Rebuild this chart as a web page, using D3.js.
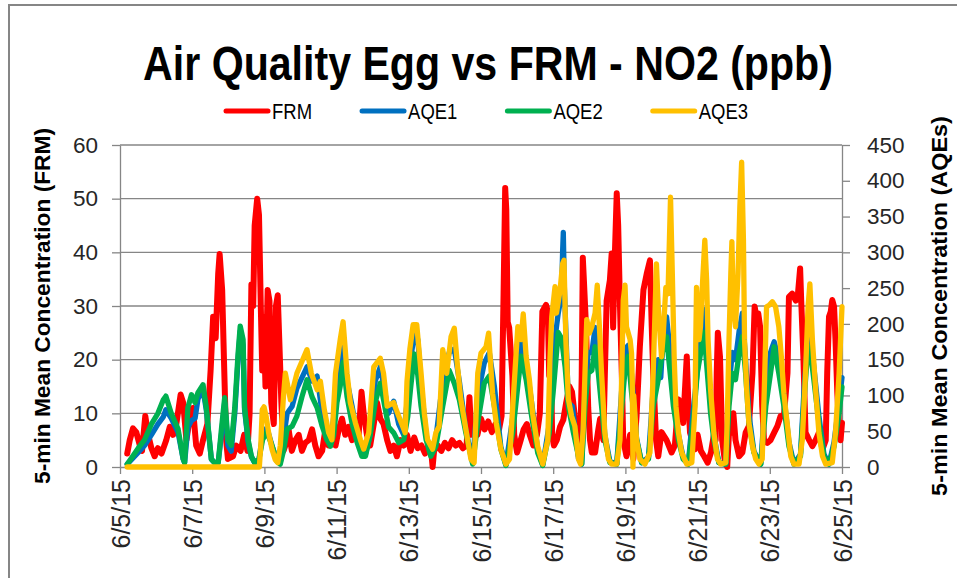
<!DOCTYPE html>
<html><head><meta charset="utf-8">
<script src="https://cdn.jsdelivr.net/npm/d3@7"></script>
<style>html,body{margin:0;padding:0;background:#fff;}svg{display:block;}</style>
</head><body>
<svg id="c" width="957" height="578"></svg>
<script>
// ---------- DATA ----------
const chartTitle = "Air Quality Egg vs FRM - NO2 (ppb)";
const seriesNames = ["FRM", "AQE1", "AQE2", "AQE3"];
const seriesColors = ["#FF0000", "#0070C0", "#00B050", "#FFC000"];
const leftTitle = "5-min Mean Concentration (FRM)";
const rightTitle = "5-min Mean Concentration (AQEs)";
const leftTicks = [0, 10, 20, 30, 40, 50, 60];
const rightTicks = [0, 50, 100, 150, 200, 250, 300, 350, 400, 450];
const dateTicks = ["2015-06-05","2015-06-07","2015-06-09","2015-06-11","2015-06-13","2015-06-15","2015-06-17","2015-06-19","2015-06-21","2015-06-23","2015-06-25"];
const startDate = "2015-06-05";
// [days since 6/5/15 00:00, ppb]
const frm = [[0.20,2.5],[0.27,5],[0.36,7.2],[0.45,6.5],[0.55,4],[0.61,3],[0.70,9.5],[0.78,6],[0.87,3.5],[0.96,2],[1.05,3.5],[1.15,2.5],[1.28,5],[1.38,7.5],[1.47,6],[1.56,8],[1.68,13.5],[1.75,12],[1.84,5],[1.93,9],[2.02,11],[2.11,4],[2.21,2.5],[2.30,5],[2.42,8],[2.51,18],[2.58,28],[2.65,24],[2.72,36],[2.76,39.7],[2.83,33],[2.88,20],[2.94,5],[2.99,1.5],[3.13,2],[3.22,4],[3.34,3],[3.44,6],[3.53,3],[3.59,10],[3.64,34],[3.69,30],[3.73,45],[3.80,50],[3.85,47],[3.90,30],[3.94,18],[3.98,28],[4.03,15],[4.09,33],[4.14,31],[4.19,12],[4.26,8],[4.32,30],[4.37,32],[4.41,24],[4.47,12],[4.53,3],[4.58,4],[4.67,7],[4.76,3],[4.86,5],[4.95,6],[5.04,3],[5.13,4.5],[5.23,5],[5.32,7],[5.41,4],[5.50,2],[5.60,3],[5.69,7],[5.78,4],[5.87,6],[5.97,4],[6.06,7],[6.15,9],[6.24,6],[6.33,7.5],[6.43,5],[6.52,8],[6.61,6],[6.69,14],[6.75,10],[6.84,6],[6.93,4],[7.03,8],[7.12,12],[7.21,9],[7.30,8],[7.40,5],[7.49,3],[7.58,4],[7.67,2],[7.77,5],[7.86,4],[7.95,6],[8.05,3],[8.15,5.5],[8.25,3.5],[8.35,4],[8.45,2.5],[8.55,4],[8.62,3],[8.66,0],[8.70,3],[8.80,4],[8.90,3],[9.00,4.5],[9.10,3.5],[9.20,5],[9.30,4],[9.40,4.5],[9.50,3.5],[9.60,4],[9.68,13],[9.73,6],[9.82,8],[9.90,6],[10.00,9],[10.10,7],[10.20,8.5],[10.30,6.5],[10.40,8],[10.50,7],[10.57,9.5],[10.62,30],[10.67,52],[10.70,48],[10.74,27],[10.78,26],[10.83,21],[10.87,17],[10.92,6],[11.00,2.7],[11.10,5],[11.18,7],[11.27,8],[11.35,6],[11.45,4],[11.55,6],[11.63,10],[11.70,29],[11.80,30.2],[11.85,29],[11.89,17],[11.93,23],[11.97,6],[12.02,4],[12.10,5],[12.19,7.5],[12.28,8.8],[12.36,12],[12.45,15],[12.52,14],[12.60,9.5],[12.70,3.3],[12.74,1.5],[12.79,17],[12.82,39],[12.85,34.8],[12.91,26],[12.97,11],[13.02,5],[13.07,2.7],[13.16,2.7],[13.25,7],[13.30,9],[13.39,5],[13.43,17],[13.48,31],[13.57,34.8],[13.62,39.8],[13.66,26],[13.71,40],[13.76,51],[13.80,45],[13.85,30],[13.90,17.5],[13.94,5],[14.03,2],[14.13,6],[14.22,1.5],[14.31,9.5],[14.40,22.4],[14.50,33],[14.59,36],[14.68,38.5],[14.73,26],[14.77,17.5],[14.85,5],[14.91,2],[15.00,6.5],[15.14,5],[15.28,2.7],[15.37,4],[15.47,12.6],[15.56,11.3],[15.60,8.2],[15.70,20.6],[15.74,12.6],[15.79,6.4],[15.93,3.3],[16.00,6],[16.09,3],[16.18,2],[16.28,0.8],[16.37,2.7],[16.46,6.4],[16.50,5],[16.53,17.5],[16.56,25],[16.62,20.6],[16.68,5],[16.75,1.4],[16.82,0],[16.87,6.4],[16.93,6.4],[16.99,10],[17.05,5],[17.15,2],[17.24,2.7],[17.33,6.4],[17.42,7.6],[17.52,17.5],[17.58,29.9],[17.64,27.4],[17.68,28.6],[17.73,26.2],[17.79,11.3],[17.84,5],[17.93,4.5],[18.02,5],[18.12,6.4],[18.21,7.6],[18.30,9.5],[18.39,9.5],[18.49,17.5],[18.53,31.7],[18.62,32.3],[18.72,31],[18.78,32.3],[18.84,37],[18.87,31],[18.93,20.6],[18.99,6.4],[19.09,5],[19.18,3.9],[19.27,5],[19.36,6.4],[19.46,3.3],[19.55,5],[19.59,17.5],[19.64,28],[19.69,29],[19.73,31.1],[19.78,29.9],[19.82,23.7],[19.87,13.8],[19.92,7.6],[19.96,5],[20.00,8.2]];
const aqe1 = [[0.20,4],[0.50,20],[0.68,30],[0.87,45],[1.05,60],[1.20,70],[1.27,80],[1.42,68],[1.61,48],[1.75,11],[1.79,6],[1.88,55],[1.98,65],[2.08,68],[2.16,95],[2.30,108],[2.39,80],[2.44,55],[2.53,11],[2.62,6],[2.72,6],[2.81,45],[2.90,90],[2.99,30],[3.08,22],[3.18,75],[3.27,150],[3.33,190],[3.41,170],[3.45,80],[3.55,35],[3.64,14],[3.73,6],[3.85,11],[3.95,45],[4.07,55],[4.21,30],[4.35,8],[4.44,6],[4.53,40],[4.63,75],[4.77,85],[4.90,110],[5.04,125],[5.18,140],[5.32,120],[5.46,127],[5.60,75],[5.73,42],[5.83,32],[5.92,70],[6.01,120],[6.10,150],[6.18,180],[6.29,120],[6.43,85],[6.57,45],[6.70,20],[6.80,18],[6.93,45],[7.07,120],[7.21,140],[7.30,115],[7.44,75],[7.58,92],[7.72,60],[7.86,45],[7.97,100],[8.05,150],[8.15,185],[8.25,178],[8.34,115],[8.48,45],[8.61,20],[8.75,40],[8.94,120],[9.12,160],[9.26,165],[9.40,120],[9.58,52],[9.77,6],[9.91,100],[10.09,145],[10.23,160],[10.37,113],[10.55,28],[10.69,3],[10.88,70],[11.11,180],[11.25,145],[11.39,95],[11.57,25],[11.71,3],[11.89,60],[12.00,160],[12.14,215],[12.23,240],[12.26,300],[12.28,328],[12.31,250],[12.42,90],[12.53,85],[12.60,55],[12.70,12],[12.79,4],[12.88,110],[12.97,160],[13.07,160],[13.16,195],[13.25,160],[13.34,105],[13.43,45],[13.57,8],[13.76,4],[13.90,110],[13.99,165],[14.08,170],[14.17,130],[14.31,40],[14.45,6],[14.64,14],[14.77,110],[14.91,150],[14.98,125],[15.05,190],[15.14,210],[15.24,160],[15.33,100],[15.47,45],[15.60,14],[15.74,4],[15.88,80],[15.96,117],[16.08,180],[16.18,220],[16.27,160],[16.36,90],[16.45,45],[16.59,6],[16.78,4],[16.87,110],[16.96,160],[17.05,150],[17.15,190],[17.24,215],[17.33,150],[17.42,75],[17.56,22],[17.75,4],[17.89,110],[18.02,160],[18.07,168],[18.12,175],[18.25,150],[18.39,100],[18.53,35],[18.67,4],[18.85,18],[18.95,110],[19.04,170],[19.11,190],[19.22,140],[19.36,72],[19.50,18],[19.64,4],[19.78,35],[19.92,90],[20.00,125]];
const aqe2 = [[0.20,4],[0.50,26],[0.68,38],[0.87,60],[1.05,75],[1.20,94],[1.27,99],[1.42,75],[1.61,53],[1.75,11],[1.79,6],[1.88,83],[1.98,101],[2.08,90],[2.16,104],[2.30,115],[2.39,83],[2.44,57],[2.53,11],[2.62,6],[2.72,6],[2.81,53],[2.90,97],[2.99,38],[3.08,30],[3.18,83],[3.27,158],[3.33,197],[3.41,178],[3.45,83],[3.55,38],[3.64,15],[3.73,6],[3.85,11],[3.95,38],[4.07,49],[4.21,30],[4.35,8],[4.44,4],[4.53,23],[4.63,53],[4.77,57],[4.90,71],[5.04,98],[5.18,122],[5.32,98],[5.46,83],[5.60,57],[5.73,38],[5.83,29],[5.92,45],[6.01,90],[6.10,113],[6.18,146],[6.29,98],[6.43,60],[6.57,34],[6.70,15],[6.80,15],[6.93,45],[7.07,90],[7.21,117],[7.30,94],[7.44,56],[7.58,48],[7.72,34],[7.86,38],[7.97,70],[8.05,110],[8.15,158],[8.25,128],[8.34,85],[8.48,38],[8.61,15],[8.75,29],[8.94,85],[9.12,135],[9.26,117],[9.40,94],[9.58,48],[9.77,4],[9.91,62],[10.09,117],[10.23,127],[10.37,85],[10.55,25],[10.69,2],[10.88,48],[11.11,155],[11.25,122],[11.39,75],[11.57,20],[11.71,2],[11.89,48],[12.00,105],[12.14,188],[12.23,180],[12.33,140],[12.42,85],[12.56,48],[12.70,15],[12.79,4],[12.88,85],[12.97,131],[13.07,135],[13.16,168],[13.25,131],[13.34,85],[13.43,38],[13.57,6],[13.76,4],[13.90,85],[13.99,135],[14.08,155],[14.17,104],[14.31,38],[14.45,6],[14.64,11],[14.77,85],[14.91,122],[15.05,168],[15.14,182],[15.24,131],[15.33,85],[15.47,38],[15.60,11],[15.74,4],[15.88,62],[15.99,131],[16.08,158],[16.18,188],[16.27,131],[16.36,75],[16.45,38],[16.59,6],[16.78,4],[16.87,85],[16.96,131],[17.05,122],[17.15,159],[17.24,182],[17.33,131],[17.42,62],[17.56,20],[17.75,4],[17.89,85],[18.02,131],[18.12,168],[18.25,131],[18.39,85],[18.53,29],[18.67,4],[18.85,15],[18.95,95],[19.04,155],[19.11,168],[19.22,122],[19.36,62],[19.50,15],[19.64,4],[19.78,29],[19.92,75],[20.00,112]];
const aqe3 = [[0.20,0],[3.86,0],[3.90,30],[3.94,80],[3.99,84],[4.05,70],[4.12,47],[4.21,25],[4.30,10],[4.37,6],[4.44,30],[4.53,100],[4.58,131],[4.72,94],[4.90,131],[5.06,150],[5.18,164],[5.30,131],[5.46,108],[5.55,120],[5.66,80],[5.78,48],[5.87,38],[5.97,131],[6.10,178],[6.18,203],[6.29,131],[6.38,90],[6.52,62],[6.66,38],[6.75,25],[6.89,48],[7.03,140],[7.21,152],[7.30,131],[7.40,85],[7.58,90],[7.72,71],[7.90,48],[7.95,120],[8.03,165],[8.12,199],[8.22,199],[8.34,131],[8.43,75],[8.52,38],[8.66,25],[8.75,48],[8.84,57],[8.94,164],[9.05,131],[9.17,182],[9.26,194],[9.35,140],[9.44,95],[9.58,53],[9.72,11],[9.81,6],[9.91,131],[10.00,159],[10.14,168],[10.21,187],[10.32,103],[10.42,62],[10.55,25],[10.69,4],[10.79,11],[10.88,85],[11.02,196],[11.11,178],[11.17,214],[11.25,155],[11.34,122],[11.43,75],[11.57,29],[11.71,4],[11.85,38],[11.91,150],[11.96,210],[12.05,252],[12.09,215],[12.19,247],[12.26,284],[12.30,289],[12.35,178],[12.42,95],[12.51,71],[12.60,57],[12.70,11],[12.76,4],[12.83,52],[12.88,131],[12.93,206],[13.00,187],[13.07,196],[13.16,215],[13.22,254],[13.28,196],[13.34,131],[13.43,48],[13.53,11],[13.62,4],[13.76,4],[13.85,38],[13.90,131],[13.94,233],[13.99,254],[14.03,196],[14.13,178],[14.17,159],[14.19,120],[14.21,0],[14.23,100],[14.31,38],[14.40,11],[14.54,4],[14.68,20],[14.77,131],[14.86,284],[14.91,224],[15.00,154],[15.05,187],[15.12,251],[15.18,242],[15.25,377],[15.30,270],[15.35,154],[15.40,85],[15.47,48],[15.56,20],[15.70,4],[15.84,6],[15.93,85],[15.95,178],[15.97,251],[15.99,224],[16.04,178],[16.08,196],[16.13,251],[16.20,317],[16.25,261],[16.29,178],[16.36,108],[16.45,48],[16.55,11],[16.64,4],[16.78,6],[16.82,62],[16.87,178],[16.92,270],[16.95,315],[16.99,224],[17.05,196],[17.12,270],[17.17,363],[17.22,426],[17.27,317],[17.30,178],[17.36,108],[17.42,62],[17.52,29],[17.61,11],[17.70,4],[17.79,11],[17.86,131],[17.91,224],[17.98,226],[18.07,231],[18.16,224],[18.25,196],[18.32,154],[18.39,103],[18.49,57],[18.58,15],[18.67,4],[18.81,4],[18.90,38],[18.99,131],[19.06,224],[19.11,256],[19.18,178],[19.27,108],[19.36,48],[19.46,15],[19.55,4],[19.73,6],[19.82,48],[19.92,131],[20.00,224]];

// ---------- DRAW ----------
const svg = d3.select("#c");
const M = {left: 120, right: 842, top: 145, bottom: 467};
const FONT = "'Liberation Sans', Arial, sans-serif";
const AX = "#868686";

const t0 = new Date(startDate + "T00:00:00Z");
const toDate = d => new Date(t0.getTime() + d * 864e5);
const x = d3.scaleUtc().domain([t0, new Date("2015-06-25T00:00:00Z")]).range([M.left, M.right]);
const yL = d3.scaleLinear().domain([0, 60]).range([M.bottom, M.top]);
const yR = d3.scaleLinear().domain([0, 450]).range([M.bottom, M.top]);

// outer border
svg.append("rect").attr("x", 9).attr("y", 5).attr("width", 1000).attr("height", 600)
  .attr("fill", "none").attr("stroke", AX).attr("stroke-width", 2);

// gridlines
svg.append("g").selectAll("line").data(leftTicks.filter(v => v > 0)).join("line")
  .attr("x1", M.left).attr("x2", M.right)
  .attr("y1", d => yL(d)).attr("y2", d => yL(d))
  .attr("stroke", AX).attr("stroke-width", 1.3);

function styleAxis(g, fs) {
  g.selectAll("path").attr("stroke", AX).attr("stroke-width", 1.3);
  g.selectAll("line").attr("stroke", AX).attr("stroke-width", 1.3);
  g.selectAll("text").attr("fill", "#262626").attr("font-family", FONT).attr("font-size", fs);
}
const gl = svg.append("g").attr("transform", `translate(${M.left},0)`)
  .call(d3.axisLeft(yL).tickValues(leftTicks).tickSize(8).tickSizeOuter(0).tickPadding(14));
styleAxis(gl, 22.5);
const gr = svg.append("g").attr("transform", `translate(${M.right},0)`)
  .call(d3.axisRight(yR).tickValues(rightTicks).tickSize(8).tickSizeOuter(0).tickPadding(17));
styleAxis(gr, 22.5);
const gb = svg.append("g").attr("transform", `translate(0,${M.bottom})`)
  .call(d3.axisBottom(x).tickValues(dateTicks.map(s => new Date(s + "T00:00:00Z")))
    .tickFormat(d3.utcFormat("%-m/%-d/%y")).tickSize(7).tickSizeOuter(0));
styleAxis(gb, 25);
gb.selectAll("text").attr("transform", "rotate(-90)").attr("text-anchor", "end")
  .attr("x", -12).attr("y", 0).attr("dy", "0.36em");

// series
const series = [frm, aqe1, aqe2, aqe3];
const widths = [6, 5.3, 5.3, 5.3];
const line = (scale) => d3.line().x(d => x(toDate(d[0]))).y(d => scale(d[1]));
series.forEach((s, i) => {
  svg.append("path").datum(s).attr("d", line(i === 0 ? yL : yR))
    .attr("fill", "none").attr("stroke", seriesColors[i]).attr("stroke-width", widths[i])
    .attr("stroke-linejoin", "round").attr("stroke-linecap", "round");
});

// narrow text helper: render in Liberation Sans and squeeze horizontally
function narrowText(parent, tx, ty, rot, str, size, bold, anchor, sx, target) {
  const g = parent.append("g");
  const t = g.append("text").attr("x", 0).attr("y", 0).attr("text-anchor", anchor)
    .attr("font-family", FONT).attr("font-weight", bold ? "bold" : "normal")
    .attr("font-size", size).attr("fill", "#000").text(str);
  const w = t.node().getComputedTextLength();
  const k = target ? target / w : sx;
  g.attr("transform", `translate(${tx},${ty}) rotate(${rot}) scale(${k},1)`);
  return {g, t, w: w * k};
}

// title
narrowText(svg, 488, 80, 0, chartTitle, 49, true, "middle", 1, 690);

// axis titles
narrowText(svg, 50, 306, -90, leftTitle, 22.5, true, "middle", 1, 356);
narrowText(svg, 947, 306, -90, rightTitle, 22.5, true, "middle", 1, 380);

// legend
let lx = 226;
seriesNames.forEach((n, i) => {
  svg.append("line").attr("x1", lx).attr("x2", lx + 42).attr("y1", 111).attr("y2", 111)
    .attr("stroke", seriesColors[i]).attr("stroke-width", 5).attr("stroke-linecap", "round");
  const r = narrowText(svg, lx + 46, 118.5, 0, n, 21.5, false, "start", 0.86, null);
  lx += 46 + r.w + 50;
});
</script>
</body></html>
